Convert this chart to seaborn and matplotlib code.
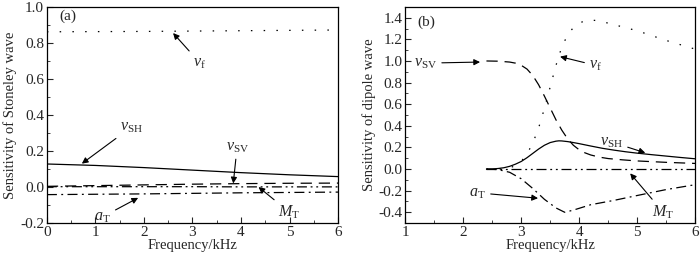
import numpy as np
import pandas as pd
import seaborn as sns
import matplotlib.pyplot as plt
from matplotlib.ticker import MultipleLocator

# panel (a): Stoneley wave
freq_a = [0, 1, 2, 3, 4, 5, 6]
a_vf = [0.862, 0.863, 0.864, 0.866, 0.868, 0.870, 0.872]
a_vsh = [0.128, 0.120, 0.108, 0.094, 0.080, 0.068, 0.058]
a_vsv = [0.004, 0.008, 0.012, 0.016, 0.019, 0.021, 0.022]
a_mt = [0.002, 0.002, 0.002, 0.002, 0.001, 0.001, 0.001]
a_at = [-0.042, -0.040, -0.038, -0.035, -0.032, -0.030, -0.028]

# panel (b): dipole wave
fb_vf = [2.4, 2.6, 2.8, 2.9, 3.0, 3.1, 3.2, 3.3, 3.4, 3.5, 3.6, 3.7, 3.8, 3.9,
         4.0, 4.1, 4.2, 4.35, 4.5, 4.75, 5.0, 5.5, 6.0]
b_vf = [0.0, 0.002, 0.012, 0.03, 0.07, 0.14, 0.24, 0.38, 0.56, 0.76, 0.96, 1.13,
        1.24, 1.31, 1.35, 1.372, 1.38, 1.37, 1.35, 1.315, 1.28, 1.19, 1.11]
fb_vsh = [2.4, 2.5, 2.6, 2.7, 2.8, 2.9, 3.0, 3.1, 3.2, 3.3, 3.4, 3.5, 3.6, 3.65,
          3.7, 3.8, 3.9, 4.0, 4.2, 4.4, 4.6, 4.8, 5.0, 5.25, 5.5, 5.75, 6.0]
b_vsh = [0.0, 0.001, 0.005, 0.012, 0.025, 0.045, 0.07, 0.105, 0.145, 0.185, 0.22,
         0.245, 0.258, 0.261, 0.26, 0.254, 0.245, 0.235, 0.213, 0.192, 0.175,
         0.16, 0.147, 0.133, 0.12, 0.107, 0.095]
fb_vsv = [2.4, 2.6, 2.8, 2.9, 3.0, 3.1, 3.2, 3.3, 3.4, 3.5, 3.6, 3.7, 3.8, 3.9,
          4.0, 4.1, 4.2, 4.35, 4.5, 4.75, 5.0, 5.5, 6.0]
b_vsv = [1.0, 0.998, 0.99, 0.98, 0.96, 0.925, 0.865, 0.78, 0.675, 0.565, 0.455,
         0.36, 0.28, 0.22, 0.178, 0.15, 0.13, 0.11, 0.097, 0.085, 0.075, 0.062,
         0.052]
fb_mt = [2.4, 3.0, 4.0, 5.0, 6.0]
b_mt = [0.0, 0.0, 0.0, 0.0, 0.0]
fb_at = [2.4, 2.6, 2.8, 3.0, 3.2, 3.4, 3.6, 3.75, 3.9, 4.2, 4.6, 5.0, 5.5, 6.0]
b_at = [0.0, -0.005, -0.03, -0.09, -0.18, -0.28, -0.36, -0.40, -0.38, -0.33,
        -0.29, -0.245, -0.19, -0.145]

sns.set_style("ticks")
plt.rcParams['font.family'] = ['Liberation Serif', 'DejaVu Serif']
plt.rcParams['mathtext.fontset'] = 'custom'
plt.rcParams['mathtext.rm'] = 'Liberation Serif'
plt.rcParams['mathtext.it'] = 'Liberation Serif:italic'
plt.rcParams['xtick.direction'] = 'in'
plt.rcParams['ytick.direction'] = 'in'
plt.rcParams['axes.unicode_minus'] = False

styles = {
    'vf': (0, (1.2, 9)),
    'vsh': '-',
    'vsv': (0, (9, 5.5)),
    'mt': (0, (8, 3, 1.5, 3, 1.5, 3)),
    'at': (0, (8, 3.5, 1.5, 3.5)),
}
labels = {
    'vf': r'$v_{\mathrm{f}}$',
    'vsh': r'$v_{\mathrm{SH}}$',
    'vsv': r'$v_{\mathrm{SV}}$',
    'mt': r'$M_{\mathrm{T}}$',
    'at': r'$a_{\mathrm{T}}$',
}

fig = plt.figure(figsize=(7, 2.57), dpi=100)
ax1 = fig.add_axes([0.067, 0.132, 0.416, 0.841])
ax2 = fig.add_axes([0.579, 0.132, 0.414, 0.841])

series_a = [('vf', freq_a, a_vf), ('vsh', freq_a, a_vsh), ('vsv', freq_a, a_vsv),
            ('mt', freq_a, a_mt), ('at', freq_a, a_at)]
series_b = [('vf', fb_vf, b_vf), ('vsh', fb_vsh, b_vsh), ('vsv', fb_vsv, b_vsv),
            ('mt', fb_mt, b_mt), ('at', fb_at, b_at)]

for ax, series in [(ax1, series_a), (ax2, series_b)]:
    for key, xs, ys in series:
        df = pd.DataFrame({'f': xs, 'v': ys})
        sns.lineplot(data=df, x='f', y='v', ax=ax, color='black', lw=0.9,
                     linestyle=styles[key], estimator=None, sort=False)

fs = 10.5
tfs = 11
lfs = 11.5
arrow = dict(arrowstyle='-|>', color='black', lw=0.8, mutation_scale=9,
             shrinkA=1, shrinkB=0)

# panel (a)
ax1.set_xlim(0, 6)
ax1.set_ylim(-0.2, 1.0)
ax1.xaxis.set_major_locator(MultipleLocator(1))
ax1.xaxis.set_minor_locator(MultipleLocator(0.5))
ax1.yaxis.set_major_locator(MultipleLocator(0.2))
ax1.yaxis.set_minor_locator(MultipleLocator(0.1))
ax1.set_xlabel('Frequency/kHz', fontsize=fs, labelpad=0)
ax1.set_ylabel('Sensitivity of Stoneley wave', fontsize=fs, labelpad=2)
ax1.text(0.25, 0.95, '(a)', fontsize=tfs, va='center')
ax1.annotate(labels['vf'], xy=(2.6, 0.855), xytext=(3.15, 0.69), fontsize=lfs,
             ha='center', va='center', arrowprops=arrow)
ax1.annotate(labels['vsh'], xy=(0.72, 0.13), xytext=(1.75, 0.335), fontsize=lfs,
             ha='center', va='center', arrowprops=arrow)
ax1.annotate(labels['vsv'], xy=(3.84, 0.02), xytext=(3.92, 0.225), fontsize=lfs,
             ha='center', va='center', arrowprops=arrow)
ax1.annotate(labels['mt'], xy=(4.36, 0.0), xytext=(5.0, -0.14), fontsize=lfs,
             ha='center', va='center', arrowprops=arrow)
ax1.annotate(labels['at'], xy=(1.88, -0.06), xytext=(1.15, -0.165), fontsize=lfs,
             ha='center', va='center', arrowprops=arrow)

# panel (b)
ax2.set_xlim(1, 6)
ax2.set_ylim(-0.5, 1.5)
ax2.xaxis.set_major_locator(MultipleLocator(1))
ax2.xaxis.set_minor_locator(MultipleLocator(0.5))
ax2.set_yticks(np.arange(-0.4, 1.41, 0.2))
ax2.yaxis.set_minor_locator(MultipleLocator(0.1))
ax2.set_xlabel('Frequency/kHz', fontsize=fs, labelpad=0)
ax2.set_ylabel('Sensitivity of dipole wave', fontsize=fs, labelpad=2)
ax2.text(1.2, 1.36, '(b)', fontsize=tfs, va='center')
ax2.annotate(labels['vsv'], xy=(2.29, 0.99), xytext=(1.35, 0.98), fontsize=lfs,
             ha='center', va='center', arrowprops=arrow)
ax2.annotate(labels['vf'], xy=(3.67, 1.04), xytext=(4.28, 0.96), fontsize=lfs,
             ha='center', va='center', arrowprops=arrow)
ax2.annotate(labels['vsh'], xy=(5.14, 0.15), xytext=(4.56, 0.25), fontsize=lfs,
             ha='center', va='center', arrowprops=arrow)
ax2.annotate(labels['mt'], xy=(4.88, -0.04), xytext=(5.45, -0.40), fontsize=lfs,
             ha='center', va='center', arrowprops=arrow)
ax2.annotate(labels['at'], xy=(3.29, -0.27), xytext=(2.25, -0.22), fontsize=lfs,
             ha='center', va='center', arrowprops=arrow)

for ax in (ax1, ax2):
    ax.tick_params(which='major', length=4, width=0.8, labelsize=tfs, pad=2)
    ax.tick_params(which='minor', length=2, width=0.6)
    for sp in ax.spines.values():
        sp.set_visible(True)
        sp.set_linewidth(0.9)
        sp.set_color('black')

fig.savefig('out.png', dpi=100)
